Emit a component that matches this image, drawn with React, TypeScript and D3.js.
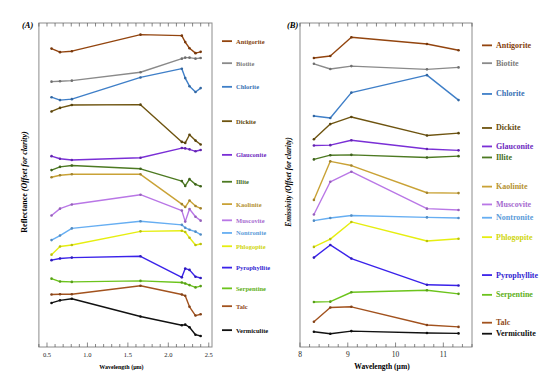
import React, { useEffect, useRef } from 'react';
import * as d3 from 'd3';

// ASTER band centres (µm)
const swirBands = [0.556, 0.661, 0.807, 1.656, 2.167, 2.209, 2.262, 2.336, 2.4];
const tirBands = [8.291, 8.634, 9.075, 10.657, 11.318];

const minerals = ['Antigorite', 'Biotite', 'Chlorite', 'Dickite', 'Glauconite', 'Illite', 'Kaolinite',
  'Muscovite', 'Nontronite', 'Phlogopite', 'Pyrophyllite', 'Serpentine', 'Talc', 'Vermiculite'];

const colors = ['#93450f', '#8a8a8a', '#3f7fc8', '#6e5410', '#7a2fd6', '#4d7a22', '#c9a236',
  '#b977e6', '#66aef2', '#e6ee10', '#3a22ea', '#6cc41c', '#a2521e', '#111111'];

// reflectance, offset for clarity (relative units)
const reflectance = [
  [92.1, 91.0, 91.3, 96.4, 96.1, 94.1, 92.2, 90.7, 91.1],
  [81.9, 82.0, 82.2, 84.8, 89.0, 89.3, 89.3, 89.0, 89.2],
  [77.1, 76.2, 76.5, 83.2, 85.9, 83.0, 80.5, 78.7, 79.9],
  [72.7, 73.8, 74.7, 74.8, 63.3, 63.0, 65.5, 63.7, 62.5],
  [58.9, 58.1, 57.7, 58.4, 61.4, 61.3, 61.0, 60.4, 60.8],
  [54.6, 55.6, 56.0, 55.0, 51.2, 49.7, 51.8, 50.2, 49.6],
  [52.4, 53.0, 53.3, 53.3, 44.1, 43.2, 45.2, 43.5, 42.8],
  [40.6, 42.7, 44.0, 47.0, 42.1, 38.7, 42.6, 40.2, 39.0],
  [33.0, 34.4, 36.6, 38.8, 37.7, 36.8, 36.2, 35.6, 34.7],
  [28.5, 31.0, 31.5, 35.7, 35.9, 35.5, 33.7, 31.5, 31.8],
  [26.8, 27.3, 27.6, 28.0, 21.5, 24.2, 23.8, 21.7, 21.3],
  [21.1, 20.2, 20.1, 20.4, 19.9, 19.6, 19.1, 18.4, 18.8],
  [16.2, 16.3, 16.3, 18.9, 16.2, 15.8, 12.4, 9.7, 10.1],
  [13.6, 14.4, 14.9, 9.4, 6.7, 6.9, 6.1, 3.8, 3.4],
];

// emissivity, offset for clarity (relative units)
const emissivity = [
  [89.2, 89.8, 95.6, 93.5, 91.6],
  [87.4, 85.8, 86.7, 85.7, 86.3],
  [71.3, 70.7, 78.5, 83.9, 76.2],
  [64.1, 68.8, 71.0, 65.3, 66.0],
  [62.2, 62.3, 63.8, 61.1, 60.7],
  [57.9, 59.2, 59.3, 58.5, 58.9],
  [45.4, 57.3, 56.0, 47.6, 47.5],
  [40.9, 51.0, 54.1, 42.7, 42.3],
  [39.0, 39.8, 40.6, 40.0, 39.8],
  [30.9, 33.3, 38.6, 32.7, 33.4],
  [27.6, 31.5, 27.3, 19.2, 19.0],
  [13.9, 14.0, 16.9, 17.5, 16.4],
  [7.8, 12.2, 12.4, 6.8, 6.2],
  [4.7, 4.1, 4.9, 4.3, 4.2],
];

// where each legend entry sits, in the same y units
const legendYA = [94.4, 87.6, 80.3, 69.7, 59.3, 51.0, 44.1, 39.1, 35.2, 31.1, 24.5, 18.1, 12.6, 5.2];
const legendYB = [93.1, 87.6, 78.1, 67.6, 61.9, 58.5, 49.5, 44.0, 39.9, 33.9, 22.2, 16.1, 7.5, 4.1];

const FONT = '"Liberation Serif", "DejaVu Serif", serif';

type PanelOpts = {
  bands: number[];
  values: number[][];
  legendY: number[];
  xDomain: [number, number];
  left: number;
  right: number;
  minorStep: number;
  majorTicks: number[];
  tickFmt: (d: number) => string;
  tickSize: number;
  tag: string;
  yTitle: string;
  yTitleItalicAll: boolean;
  yTitleX: number;
  yTitleSize: number;
  xTitleSize: number;
  legendSize: number;
  tagX: number;
};

const TOP = 23;
const BOTTOM = 347;

function drawPanel(svg: d3.Selection<SVGSVGElement, unknown, null, undefined>, o: PanelOpts) {
  const x = d3.scaleLinear().domain(o.xDomain).range([o.left, o.right]);
  const y = d3.scaleLinear().domain([0, 100]).range([BOTTOM, TOP]);
  const g = svg.append('g');

  g.append('rect')
    .attr('x', o.left).attr('y', TOP)
    .attr('width', o.right - o.left).attr('height', BOTTOM - TOP)
    .attr('fill', 'none').attr('stroke', '#8c8c8c').attr('stroke-width', 1);

  // minor ticks top and bottom, pointing inward
  const minor = d3.range(Math.ceil(o.xDomain[0] / o.minorStep) * o.minorStep, o.xDomain[1] + 1e-9, o.minorStep);
  const isMajor = (v: number) => o.majorTicks.some(m => Math.abs(m - v) < 1e-6);
  minor.forEach(v => {
    const len = isMajor(v) ? 4.5 : 3;
    g.append('line').attr('x1', x(v)).attr('x2', x(v)).attr('y1', BOTTOM).attr('y2', BOTTOM - len)
      .attr('stroke', '#555').attr('stroke-width', 0.7);
    g.append('line').attr('x1', x(v)).attr('x2', x(v)).attr('y1', TOP).attr('y2', TOP + 3.5)
      .attr('stroke', '#555').attr('stroke-width', 0.7);
  });

  g.selectAll('.tick-label').data(o.majorTicks).enter().append('text')
    .attr('x', d => x(d)).attr('y', BOTTOM + 9.5)
    .attr('text-anchor', 'middle')
    .style('font-family', FONT).style('font-size', o.tickSize + 'px').style('fill', '#222')
    .text(d => o.tickFmt(d));

  const line = d3.line<number>()
    .x((_, i) => x(o.bands[i]))
    .y(d => y(d));

  o.values.forEach((vals, k) => {
    g.append('path')
      .datum(vals)
      .attr('fill', 'none')
      .attr('stroke', colors[k])
      .attr('stroke-width', 1.4)
      .attr('stroke-linejoin', 'round')
      .attr('d', line);

    g.selectAll('.pt' + k).data(vals).enter().append('circle')
      .attr('cx', (_, i) => x(o.bands[i]))
      .attr('cy', d => y(d))
      .attr('r', 1.3)
      .style('fill', d3.color(colors[k])!.darker(0.6).toString());

    const ly = y(o.legendY[k]);
    g.append('line')
      .attr('x1', o.right + 10).attr('x2', o.right + 20)
      .attr('y1', ly).attr('y2', ly)
      .attr('stroke', colors[k]).attr('stroke-width', 1.8);
    g.append('text')
      .attr('x', o.right + 24).attr('y', ly)
      .attr('dominant-baseline', 'central')
      .style('font-family', FONT).style('font-weight', 'bold')
      .style('font-size', o.legendSize + 'px')
      .style('fill', d3.color(colors[k])!.darker(0.3).toString())
      .text(minerals[k]);
  });

  g.append('text')
    .attr('x', (o.left + o.right) / 2 - 4).attr('y', BOTTOM + 22)
    .attr('text-anchor', 'middle')
    .style('font-family', FONT).style('font-weight', 'bold').style('font-size', o.xTitleSize + 'px')
    .text('Wavelength (µm)');

  const yt = g.append('text')
    .attr('transform', `translate(${o.yTitleX},${(TOP + BOTTOM) / 2 - 3}) rotate(-90)`)
    .attr('text-anchor', 'middle')
    .style('font-family', FONT).style('font-weight', 'bold').style('font-size', o.yTitleSize + 'px');
  yt.append('tspan').style('font-style', o.yTitleItalicAll ? 'italic' : 'normal').text(o.yTitle + ' ');
  yt.append('tspan').style('font-style', 'italic').text('(Offset for clarity)');

  g.append('text')
    .attr('x', o.tagX).attr('y', 28)
    .style('font-family', FONT).style('font-weight', 'bold').style('font-style', 'italic')
    .style('font-size', '8.5px')
    .text(o.tag);
}

export default function App() {
  const ref = useRef<SVGSVGElement>(null);

  useEffect(() => {
    const svg = d3.select(ref.current!);
    svg.selectAll('*').remove();
    svg.append('rect').attr('width', 550).attr('height', 377).attr('fill', '#fff');

    drawPanel(svg, {
      bands: swirBands,
      values: reflectance,
      legendY: legendYA,
      xDomain: [0.4, 2.54],
      left: 38.9,
      right: 212,
      minorStep: 0.1,
      majorTicks: [0.5, 1.0, 1.5, 2.0, 2.5],
      tickFmt: d3.format('.1f'),
      tickSize: 6.5,
      tag: '(A)',
      yTitle: 'Reflectance',
      yTitleItalicAll: false,
      yTitleX: 27,
      yTitleSize: 8,
      xTitleSize: 6,
      legendSize: 6.5,
      tagX: 22,
    });

    drawPanel(svg, {
      bands: tirBands,
      values: emissivity,
      legendY: legendYB,
      xDomain: [8, 11.6],
      left: 300,
      right: 472,
      minorStep: 0.2,
      majorTicks: [8, 9, 10, 11],
      tickFmt: d3.format('d'),
      tickSize: 7.5,
      tag: '(B)',
      yTitle: 'Emissivity',
      yTitleItalicAll: true,
      yTitleX: 291,
      yTitleSize: 7.5,
      xTitleSize: 7.5,
      legendSize: 8,
      tagX: 287,
    });
  }, []);

  return (
    <svg ref={ref} width={550} height={377}
      style={{ position: 'absolute', left: 0, top: 0, background: '#fff' }} />
  );
}
